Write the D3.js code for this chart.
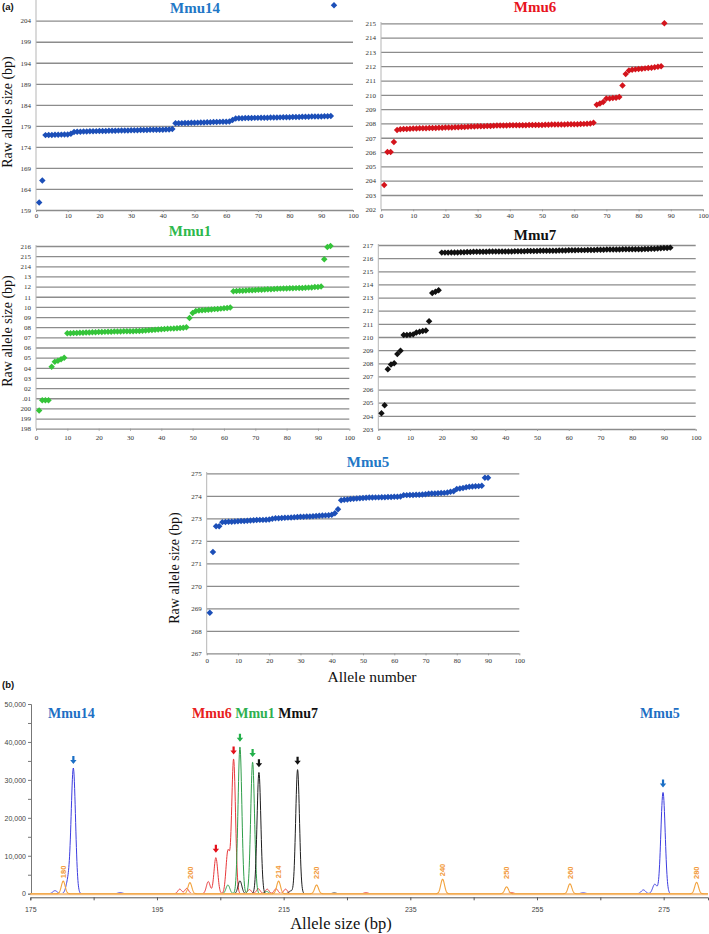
<!DOCTYPE html>
<html><head><meta charset="utf-8">
<script src="https://cdn.jsdelivr.net/npm/d3@7"></script>
<style>body{margin:0;background:#fff}svg{display:block}</style>
</head><body>
<svg id="c" width="709" height="934"></svg>
<script>
// ---------------- DATA ----------------
const alleleTicks = [0,10,20,30,40,50,60,70,80,90,100];

const mmu14Sizes = [160.8,166.0,176.8,176.82,176.85,176.87,176.9,176.92,176.95,176.97,177.15,
177.55,177.6,177.62,177.65,177.67,177.7,177.72,177.75,177.77,177.8,177.8,177.82,177.85,177.85,177.87,177.9,177.9,177.92,177.95,177.95,177.97,178.0,178.0,178.02,178.05,178.05,178.07,178.1,178.1,178.12,178.15,178.25,
179.6,179.62,179.65,179.67,179.7,179.72,179.75,179.77,179.8,179.82,179.85,179.87,179.9,179.92,179.95,179.97,180.0,180.05,
180.4,180.75,
180.8,180.82,180.85,180.85,180.87,180.9,180.9,180.92,180.95,180.95,180.97,181.0,181.0,181.02,181.05,181.05,181.07,181.1,181.1,181.12,181.15,181.15,181.17,181.2,181.2,181.22,181.25,181.27,181.3,181.35,
207.7];
const mmu14Ticks = [159,164,169,174,179,184,189,194,199,204];

const mmu6Sizes = [203.7,206.0,206.0,206.7,207.55,
207.6,207.61,207.62,207.63,207.64,207.65,207.66,207.66,207.67,207.68,207.68,207.69,207.7,207.7,207.71,207.72,207.72,207.73,207.74,207.75,207.76,207.77,207.78,207.79,207.8,207.8,207.81,207.82,207.83,207.84,207.85,207.85,207.86,207.86,207.87,207.87,207.87,207.88,207.88,207.88,207.89,207.89,207.9,207.9,207.9,207.91,207.91,207.92,207.92,207.92,207.93,207.93,207.94,207.94,207.95,207.95,207.96,207.97,207.98,208.0,208.05,
209.3,209.4,209.5,209.75,209.75,209.78,209.8,209.85,210.65,211.45,211.7,211.75,211.78,211.8,211.82,211.85,211.87,211.9,211.93,211.97,212.0,
215.0];
const mmu6Ticks = [202,203,204,205,206,207,208,209,210,211,212,213,214,215];

const mmu1Sizes = [199.8,200.8,200.8,200.8,204.1,204.6,204.7,204.85,205.0,
207.4,207.4,207.42,207.43,207.45,207.46,207.47,207.48,207.5,207.5,207.52,207.53,207.54,207.55,207.56,207.57,207.58,207.58,207.59,207.6,207.6,207.61,207.62,207.63,207.65,207.67,207.7,207.72,207.75,207.77,207.8,207.82,207.84,207.86,207.88,207.9,207.92,207.95,208.0,
208.9,209.4,209.6,209.65,209.68,209.7,209.72,209.75,209.78,209.8,209.83,209.86,209.9,209.95,
211.55,211.57,211.58,211.6,211.62,211.63,211.65,211.67,211.68,211.7,211.72,211.73,211.75,211.77,211.78,211.8,211.81,211.82,211.83,211.84,211.85,211.86,211.87,211.88,211.9,211.92,211.95,211.97,212.0,
214.7,215.9,216.0];
const mmu1Ticks = [198,199,200,201,202,203,204,205,206,207,208,209,210,211,212,213,214,215,216];
const mmu1TickLabels = ["198","199","200",".01","02","03","04","05","06","07","08","09","10","11","12","13","214","215","216"];

const mmu7Sizes = [204.2,204.8,207.55,207.9,208.0,208.7,208.95,210.15,210.15,210.17,210.2,210.35,210.4,210.45,210.5,211.2,213.35,213.45,213.55,
216.42,216.42,216.42,216.43,216.43,216.43,216.44,216.45,216.46,216.47,216.48,216.48,216.49,216.49,216.49,216.5,216.5,216.5,216.5,216.51,216.51,216.51,216.51,216.52,216.52,216.52,216.53,216.54,216.55,216.55,216.55,216.56,216.56,216.56,216.57,216.57,216.57,216.58,216.58,216.59,216.6,216.6,216.6,216.61,216.61,216.61,216.62,216.62,216.62,216.63,216.63,216.64,216.65,216.65,216.66,216.66,216.66,216.67,216.67,216.67,216.68,216.68,216.68,216.68,216.69,216.7,216.71,216.72,216.73,216.75,216.77,216.78,216.8];
const mmu7Ticks = [203,204,205,206,207,208,209,210,211,212,213,214,215,216,217];
const mmu7TickLabels = ["203","204","205","206","207","208","209","210","211","212","213","214","215","216","217"];

const mmu5Sizes = [268.8,271.5,272.65,272.65,
272.83,272.84,272.85,272.85,272.86,272.87,272.88,272.88,272.89,272.9,272.91,272.92,272.93,272.93,272.94,272.95,272.98,273.0,273.0,273.01,273.02,273.03,273.04,273.05,273.06,273.07,273.07,273.08,273.08,273.09,273.1,273.11,273.12,273.13,273.14,273.16,273.22,
273.4,273.8,
273.82,273.84,273.86,273.87,273.88,273.89,273.9,273.91,273.92,273.92,273.93,273.93,273.94,273.94,273.95,273.95,273.96,273.96,273.97,
274.03,274.03,274.04,274.04,274.05,274.05,274.06,274.07,274.09,274.1,274.1,274.11,274.12,274.13,274.15,274.18,274.2,
274.3,274.32,274.35,274.38,274.4,274.41,274.42,274.43,274.45,
274.8,274.8];
const mmu5Ticks = [267,268,269,270,271,272,273,274,275];

// Panel (b): electropherogram peaks [size (bp), height (RFU)]
const bluePeaks   = [[178.9,800],[181.0,3500],[181.8,32900],[189.2,300],[262.3,250],[271.8,1000],[273.6,2500],[274.9,26700]];
const redPeaks    = [[198.6,1200],[199.7,1400],[203.1,3200],[204.3,9500],[206.2,11200],[207.1,35400],[209.6,1100],[211.0,1300],[212.4,1200],[213.8,1300],[215.3,1200],[228.0,300],[251.0,300]];
const greenPeaks  = [[206.2,2300],[208.1,38700],[210.1,34700],[212.3,600]];
const blackPeaks  = [[208.1,3400],[211.1,32000],[216.1,700],[217.2,32700],[223.0,200]];
const ladderPeaks = [[180.2,3300],[200.2,2900],[214.2,3300],[220.2,2300],[240.1,3800],[250.2,1800],[260.2,2600],[280.2,3000]];
const ladderLabels = ["180","200","214","220","240","250","260","280"];
const arrowMarks = [["blue",181.8,32900],["red",204.3,9500],["red",207.1,35400],["green",208.1,38700],["green",210.1,34700],["black",211.1,32000],["black",217.2,32700],["blue",274.9,26700]];
const rfuTicks = [0,5000,10000,15000,20000,25000,30000,35000,40000,45000,50000];
const sizeTicks = [175,185,195,205,215,225,235,245,255,265,275];
const sizeTickLabels = ["175","","195","","215","","235","","255","","275"];

// ---------------- DRAWING ----------------
const svg = d3.select("#c");
const SERIF = "'Liberation Serif','Times New Roman',serif";
const SANS = "'Liberation Sans',Arial,sans-serif";

function scatterPanel(o) {
  const x = d3.scaleLinear().domain([0,100]).range(o.xr);
  const y = d3.scaleLinear().domain([o.ticks[0], o.ticks[o.ticks.length-1]]).range(o.yr);
  const g = svg.append("g");
  const w = o.xr[1]-o.xr[0];
  const grid = g.append("g").attr("transform",`translate(${o.xr[0]},0)`)
    .call(d3.axisLeft(y).tickValues(o.ticks).tickSize(-w).tickFormat(""));
  grid.select(".domain").remove();
  grid.selectAll("line").attr("stroke","#8c8c8c").attr("stroke-width",1.3);
  const yl = g.append("g").attr("transform",`translate(${o.xr[0]},0)`)
    .call(d3.axisLeft(y).tickValues(o.ticks).tickSize(0).tickPadding(5)
      .tickFormat((d,i)=> o.labels ? o.labels[i] : String(d)));
  yl.select(".domain").remove();
  yl.selectAll("text").attr("font-family",SERIF).attr("font-size",7).attr("fill","#333");
  g.append("line").attr("x1",o.xr[0]).attr("x2",o.xr[0])
    .attr("y1",o.axisTop).attr("y2",o.yr[0]).attr("stroke","#b5b5b5").attr("stroke-width",1);
  const xa = g.append("g").attr("transform",`translate(0,${o.yr[0]})`)
    .call(d3.axisBottom(x).tickValues(alleleTicks).tickSize(2).tickPadding(o.xpad));
  xa.select(".domain").remove();
  xa.selectAll("line").attr("stroke","#999");
  xa.selectAll("text").attr("font-family",SERIF).attr("font-size",7).attr("fill","#333");
  const sym = d3.symbol().type(d3.symbolSquare).size(21);
  g.append("g").selectAll("path").data(o.values).join("path")
    .attr("d",sym)
    .attr("transform",(d,i)=>`translate(${x(i+1)},${y(d)}) rotate(45)`)
    .attr("fill",o.color);
  g.append("text").attr("x",o.title[0]).attr("y",o.title[1]).attr("text-anchor","middle")
    .attr("font-family",SERIF).attr("font-weight","bold").attr("font-size",15)
    .attr("fill",o.titleColor).text(o.name);
}

scatterPanel({name:"Mmu14", values:mmu14Sizes, ticks:mmu14Ticks, xr:[36,353], yr:[210,20.7], axisTop:0,
  color:"#1c4fb8", titleColor:"#2277c6", title:[195,13], xpad:1});
scatterPanel({name:"Mmu6", values:mmu6Sizes, ticks:mmu6Ticks, xr:[381,703], yr:[209.3,23.3], axisTop:22,
  color:"#d4141c", titleColor:"#e8141e", title:[535,12], xpad:1.5});
scatterPanel({name:"Mmu1", values:mmu1Sizes, ticks:mmu1Ticks, labels:mmu1TickLabels, xr:[36,349.3], yr:[428.7,246], axisTop:245,
  color:"#35c43a", titleColor:"#2db84c", title:[190,236], xpad:4});
scatterPanel({name:"Mmu7", values:mmu7Sizes, ticks:mmu7Ticks, labels:mmu7TickLabels, xr:[378.3,695.7], yr:[429,245], axisTop:244,
  color:"#111", titleColor:"#111", title:[535,240], xpad:4});
scatterPanel({name:"Mmu5", values:mmu5Sizes, ticks:mmu5Ticks, xr:[206.7,519.3], yr:[653.3,473.3], axisTop:472,
  color:"#1c4fb8", titleColor:"#2277c6", title:[368,467], xpad:3});

function rotLabel(x, y, size) {
  svg.append("text").attr("transform",`translate(${x},${y}) rotate(-90)`).attr("text-anchor","middle")
    .attr("font-family",SERIF).attr("font-size",size).attr("fill","#111").text("Raw allele size (bp)");
}
rotLabel(12,112,14);
rotLabel(12,331,14);
rotLabel(179,568,14);
svg.append("text").attr("x",372).attr("y",682).attr("text-anchor","middle")
  .attr("font-family",SERIF).attr("font-size",15.5).attr("fill","#111").text("Allele number");
svg.append("text").attr("x",2).attr("y",10).attr("font-family",SANS).attr("font-weight","bold")
  .attr("font-size",9.5).attr("fill","#111").text("(a)");

// ---------------- panel (b) ----------------
const xb = d3.scaleLinear().domain([175,282]).range([30.3,708]);
const yb = d3.scaleLinear().domain([0,50000]).range([893.7,704]);

svg.append("text").attr("x",2).attr("y",687.5).attr("font-family",SANS).attr("font-weight","bold")
  .attr("font-size",9.5).attr("fill","#111").text("(b)");

const ya = svg.append("g").attr("transform","translate(31,0)")
  .call(d3.axisLeft(yb).tickValues(rfuTicks).tickSize(3).tickPadding(2)
    .tickFormat(d => d % 10000 === 0 ? d3.format(",")(d) : ""));
ya.select(".domain").attr("stroke","#777");
ya.selectAll("line").attr("stroke","#777");
ya.selectAll("text").attr("font-family",SANS).attr("font-size",7).attr("fill","#444");

const xaB = svg.append("g").attr("transform","translate(0,897.3)")
  .call(d3.axisBottom(xb).tickValues(sizeTicks).tickSize(3).tickPadding(7)
    .tickFormat((d,i)=> sizeTickLabels[i]));
xaB.select(".domain").attr("stroke","#555");
xaB.selectAll("line").attr("stroke","#555");
xaB.selectAll("text").attr("font-family",SANS).attr("font-size",7).attr("fill","#444");

svg.append("text").attr("x",341).attr("y",929).attr("text-anchor","middle")
  .attr("font-family",SERIF).attr("font-size",16.5).attr("fill","#111").text("Allele size (bp)");

const sampleX = d3.range(175, 282.001, 0.04);
function traceData(peaks, sigma) {
  return sampleX.map(s => [s, d3.sum(peaks, p => p[1]*Math.exp(-((s-p[0])**2)/(2*sigma*sigma)))]);
}
const line = d3.line().x(d=>xb(d[0])).y(d=>yb(d[1]));
const traces = [
  [bluePeaks,"#3d3de0",0.34],
  [redPeaks,"#e8383a",0.3],
  [greenPeaks,"#2f9e4a",0.3],
  [blackPeaks,"#1e1e1e",0.3],
];
traces.forEach(([pk,col,sg]) => {
  svg.append("path").attr("d",line(traceData(pk,sg))).attr("fill","none")
    .attr("stroke",col).attr("stroke-width",1);
});
svg.append("line").attr("x1",xb(175)).attr("x2",xb(282)).attr("y1",yb(0)+0.5).attr("y2",yb(0)+0.5)
  .attr("stroke","#f6c48c").attr("stroke-width",2.2);
svg.append("path").attr("d",line(traceData(ladderPeaks,0.3))).attr("fill","none")
  .attr("stroke","#f2a23c").attr("stroke-width",1.1);

svg.append("g").selectAll("text").data(ladderPeaks).join("text")
  .attr("transform",(d)=>`translate(${xb(d[0])},${Math.min(yb(d[1])-3,879)}) rotate(-90)`)
  .attr("dy","0.35em").attr("font-family",SANS).attr("font-size",7.5).attr("font-weight","bold")
  .attr("fill","#f29a3a")
  .text((d,i)=>ladderLabels[i]);

const arrowColor = {blue:"#1b6fc5", red:"#e3101a", green:"#22b04a", black:"#111"};
svg.append("g").selectAll("path").data(arrowMarks).join("path")
  .attr("transform",d=>`translate(${xb(d[1])},${yb(d[2])-5})`)
  .attr("d","M-1.1,-8 H1.1 V-4 H3.2 L0,0 L-3.2,-4 H-1.1 Z")
  .attr("fill",d=>arrowColor[d[0]]);

const lab = (x, parts) => {
  const t = svg.append("text").attr("x",x).attr("y",718).attr("font-family",SERIF)
    .attr("font-weight","bold").attr("font-size",14);
  parts.forEach(([s,c]) => t.append("tspan").attr("fill",c).text(s));
};
lab(48, [["Mmu14","#1e6fc4"]]);
lab(192, [["Mmu6 ","#e82020"],["Mmu1 ","#2eb050"],["Mmu7","#111"]]);
lab(640, [["Mmu5","#1e6fc4"]]);
</script>
</body></html>
